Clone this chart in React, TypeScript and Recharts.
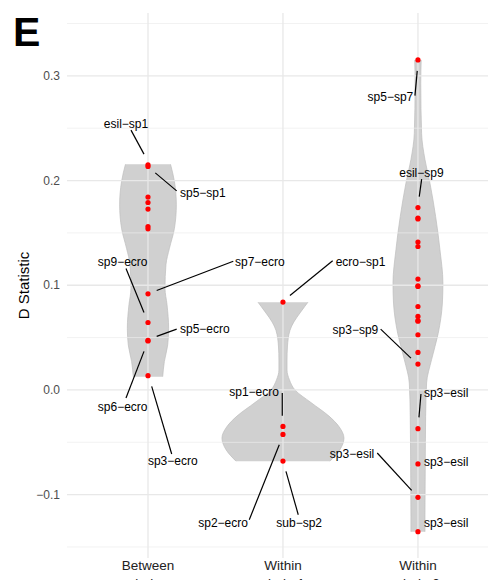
import React from 'react';
import {
  ComposedChart,
  Area,
  Scatter,
  XAxis,
  YAxis,
  ReferenceLine,
} from 'recharts';

// categories on the x axis (positions 1, 2, 3)
const categories = ['Between', 'Within', 'Within'];
const subLabels = ['clades', 'clade 1', 'clade 2'];

// D statistic per pair
const betweenValues = [0.215, 0.2134, 0.1842, 0.179, 0.1727, 0.1561, 0.1539, 0.0918, 0.0644, 0.0473, 0.0468, 0.0136];
const within1Values = [0.0839, -0.0348, -0.0425, -0.0679];
const within2Values = [
  0.3152, 0.1742, 0.1641, 0.1633, 0.1412, 0.137, 0.1059, 0.0995, 0.0988, 0.0797,
  0.0702, 0.0663, 0.0657, 0.0527, 0.0358, 0.0247, -0.037, -0.0707, -0.1026, -0.1354,
];

// violin half-widths (density, in category units) at D levels
const betweenViolin = [
  { d: 0.2155, w: 0.167 }, { d: 0.199, w: 0.196 }, { d: 0.1768, w: 0.21 },
  { d: 0.1544, w: 0.196 }, { d: 0.1353, w: 0.159 }, { d: 0.1195, w: 0.133 },
  { d: 0.0971, w: 0.126 }, { d: 0.0814, w: 0.141 }, { d: 0.0589, w: 0.153 },
  { d: 0.043, w: 0.146 }, { d: 0.027, w: 0.121 }, { d: 0.0127, w: 0.109 },
];
const within1Violin = [
  { d: 0.0838, w: 0.185 }, { d: 0.08, w: 0.163 }, { d: 0.0735, w: 0.126 },
  { d: 0.065, w: 0.081 }, { d: 0.057, w: 0.052 }, { d: 0.041, w: 0.033 },
  { d: 0.0287, w: 0.03 }, { d: 0.019, w: 0.03 }, { d: 0.0096, w: 0.048 },
  { d: 0.0, w: 0.089 }, { d: -0.012, w: 0.207 }, { d: -0.025, w: 0.341 },
  { d: -0.035, w: 0.415 }, { d: -0.046, w: 0.452 }, { d: -0.057, w: 0.422 },
  { d: -0.068, w: 0.348 },
];
const within2Violin = [
  { d: 0.3152, w: 0.024 }, { d: 0.293, w: 0.021 }, { d: 0.245, w: 0.027 },
  { d: 0.22, w: 0.052 }, { d: 0.1975, w: 0.089 }, { d: 0.1656, w: 0.131 },
  { d: 0.134, w: 0.163 }, { d: 0.102, w: 0.185 }, { d: 0.083, w: 0.181 },
  { d: 0.054, w: 0.15 }, { d: 0.029, w: 0.101 }, { d: 0.0066, w: 0.064 },
  { d: -0.0253, w: 0.057 }, { d: -0.073, w: 0.054 }, { d: -0.121, w: 0.052 },
  { d: -0.1354, w: 0.052 },
];

const majorTicks = [-0.1, 0, 0.1, 0.2, 0.3];
const minorTicks = [-0.15, -0.05, 0.05, 0.15, 0.25, 0.35];

// labelled pairs: category index, D value, text
const pointLabels = [
  { cat: 1, d: 0.215, text: 'esil−sp1' },
  { cat: 1, d: 0.2134, text: 'sp5−sp1' },
  { cat: 1, d: 0.0918, text: 'sp7−ecro' },
  { cat: 1, d: 0.0644, text: 'sp9−ecro' },
  { cat: 1, d: 0.0473, text: 'sp5−ecro' },
  { cat: 1, d: 0.0468, text: 'sp6−ecro' },
  { cat: 1, d: 0.0136, text: 'sp3−ecro' },
  { cat: 2, d: 0.0839, text: 'ecro−sp1' },
  { cat: 2, d: -0.0348, text: 'sp1−ecro' },
  { cat: 2, d: -0.0425, text: 'sp2−ecro' },
  { cat: 2, d: -0.0679, text: 'sub−sp2' },
  { cat: 3, d: 0.3152, text: 'sp5−sp7' },
  { cat: 3, d: 0.1742, text: 'esil−sp9' },
  { cat: 3, d: 0.0247, text: 'sp3−sp9' },
  { cat: 3, d: -0.037, text: 'sp3−esil' },
  { cat: 3, d: -0.0707, text: 'sp3−esil' },
  { cat: 3, d: -0.1026, text: 'sp3−esil' },
  { cat: 3, d: -0.1354, text: 'sp3−esil' },
];

// repel layout (pixel offsets from the point): text x/y, anchor, leader segment
type LabelPos = { tx: number; ty: number; anchor: string; seg?: number[] };
const labelLayout: LabelPos[] = [
  { tx: -22, ty: -40.7, anchor: 'middle', seg: [-4, -10.7, -17, -34.7] },
  { tx: 32, ty: 26, anchor: 'start', seg: [7.3, 6.4, 28.7, 24.4] },
  { tx: 87, ty: -32.3, anchor: 'start', seg: [8.7, -3.3, 85.3, -32.6] },
  { tx: -25.3, ty: -60.6, anchor: 'middle', seg: [-4, -10, -22, -54] },
  { tx: 32, ty: -11.3, anchor: 'start', seg: [8.7, -4, 28.7, -11.3] },
  { tx: -25.3, ty: 65.4, anchor: 'middle', seg: [-4, 10.4, -22, 57] },
  { tx: 24.8, ty: 85, anchor: 'middle', seg: [3.7, 10.6, 23.7, 78.3] },
  { tx: 52.7, ty: -40.3, anchor: 'start', seg: [7, -6.6, 49.7, -41.3] },
  { tx: -4, ty: -35, anchor: 'end', seg: [-0.7, -10.7, -0.7, -33.4] },
  { tx: -35, ty: 88, anchor: 'end', seg: [-3.7, 10.3, -33.7, 85.3] },
  { tx: 16.2, ty: 61.4, anchor: 'middle', seg: [3, 10.4, 15.3, 53.7] },
  { tx: -4.7, ty: 37.3, anchor: 'end', seg: [-0.7, 11, -3, 35.7] },
  { tx: 3.5, ty: -35, anchor: 'middle', seg: [1.3, -11, 3.7, -28.4] },
  { tx: -39.7, ty: -34.3, anchor: 'end', seg: [-7, -6, -37.3, -35] },
  { tx: 6, ty: -35.7, anchor: 'start', seg: [1, -11.3, 3, -34.7] },
  { tx: 6, ty: -2.6, anchor: 'start' },
  { tx: -43.7, ty: -43.7, anchor: 'end', seg: [-6.3, -7, -40.7, -44.4] },
  { tx: 6, ty: -9.3, anchor: 'start' },
];

const FONT = '"Liberation Sans", Arial, Helvetica, sans-serif';

const toPoints = (vals: number[], cat: number) => vals.map((d) => ({ x: cat, d }));
const toViolin = (rows: { d: number; w: number }[], cat: number) =>
  rows.map((r) => ({ d: r.d, range: [cat - r.w, cat + r.w] }));

const labelData = pointLabels.map((l, i) => ({ x: l.cat, d: l.d, text: l.text, idx: i }));

const fmt = (v: number) => (v < 0 ? '−' + Math.abs(v).toFixed(1) : v.toFixed(1));

const Dot = (props: any) => <circle cx={props.cx} cy={props.cy} r={2.6} fill="#ff0000" />;

const RepelLabel = (props: any) => {
  const { cx, cy, payload } = props;
  const pos = labelLayout[payload.idx];
  return (
    <g>
      {pos.seg && (
        <line
          x1={cx + pos.seg[0]}
          y1={cy + pos.seg[1]}
          x2={cx + pos.seg[2]}
          y2={cy + pos.seg[3]}
          stroke="#000"
          strokeWidth={1.2}
        />
      )}
      <text
        x={cx + pos.tx}
        y={cy + pos.ty}
        dy="0.35em"
        textAnchor={pos.anchor as any}
        fontSize={12}
        fontFamily={FONT}
        fill="#000"
      >
        {payload.text}
      </text>
    </g>
  );
};

const CategoryTick = (props: any) => {
  const { x, y, payload } = props;
  const i = Math.round(payload.value) - 1;
  return (
    <text x={x} y={y} textAnchor="middle" fontSize={13.5} fontFamily={FONT} fill="#222">
      <tspan x={x} dy={10}>{categories[i]}</tspan>
      <tspan x={x} dy={17.7}>{subLabels[i]}</tspan>
    </text>
  );
};

export default function App() {
  return (
    <div style={{ position: 'fixed', left: 0, top: 0, width: 488, height: 580, background: '#fff' }}>
      <ComposedChart
        width={488}
        height={580}
        layout="vertical"
        margin={{ top: 13, right: 0, bottom: 0, left: 0 }}
      >
        <XAxis
          type="number"
          dataKey="x"
          domain={[0.4, 3.519]}
          allowDataOverflow
          ticks={[1, 2, 3]}
          tick={<CategoryTick />}
          axisLine={false}
          tickLine={false}
          tickSize={0}
          height={22}
        />
        <YAxis
          type="number"
          dataKey="d"
          domain={[-0.1605, 0.36]}
          allowDataOverflow
          reversed
          ticks={majorTicks}
          tickFormatter={fmt}
          axisLine={false}
          tickLine={false}
          tickSize={0}
          tickMargin={7}
          width={67}
          tick={{ fill: '#4d4d4d', fontSize: 12, fontFamily: FONT }}
          label={{
            content: (p: any) => (
              <text
                x={p.viewBox.x + 24}
                y={p.viewBox.y + p.viewBox.height / 2}
                transform={`rotate(-90, ${p.viewBox.x + 24}, ${p.viewBox.y + p.viewBox.height / 2})`}
                textAnchor="middle"
                dy="0.35em"
                fontSize={15}
                fontFamily={FONT}
                fill="#000"
              >
                D Statistic
              </text>
            ),
          }}
        />
        {minorTicks.map((v) => (
          <ReferenceLine key={'mn' + v} y={v} stroke="#ececec" strokeWidth={0.7} />
        ))}
        {majorTicks.map((v) => (
          <ReferenceLine key={'mj' + v} y={v} stroke="#e8e8e8" strokeWidth={1.3} />
        ))}
        {[1, 2, 3].map((v) => (
          <ReferenceLine key={'vx' + v} x={v} stroke="#e8e8e8" strokeWidth={1.3} />
        ))}
        <Area
          data={toViolin(betweenViolin, 1)}
          dataKey="range"
          type="monotone"
          fill="#d0d0d0"
          fillOpacity={1}
          stroke="#bdbdbd"
          strokeWidth={0.7}
          isAnimationActive={false}
        />
        <Area
          data={toViolin(within1Violin, 2)}
          dataKey="range"
          type="monotone"
          fill="#d0d0d0"
          fillOpacity={1}
          stroke="#bdbdbd"
          strokeWidth={0.7}
          isAnimationActive={false}
        />
        <Area
          data={toViolin(within2Violin, 3)}
          dataKey="range"
          type="monotone"
          fill="#d0d0d0"
          fillOpacity={1}
          stroke="#bdbdbd"
          strokeWidth={0.7}
          isAnimationActive={false}
        />
        <Scatter data={toPoints(betweenValues, 1)} shape={<Dot />} isAnimationActive={false} />
        <Scatter data={toPoints(within1Values, 2)} shape={<Dot />} isAnimationActive={false} />
        <Scatter data={toPoints(within2Values, 3)} shape={<Dot />} isAnimationActive={false} />
        <Scatter data={labelData} shape={<RepelLabel />} isAnimationActive={false} />
        <text x={13} y={45.7} fontSize={41} fontWeight="bold" fontFamily={FONT} fill="#000">
          E
        </text>
      </ComposedChart>
    </div>
  );
}
